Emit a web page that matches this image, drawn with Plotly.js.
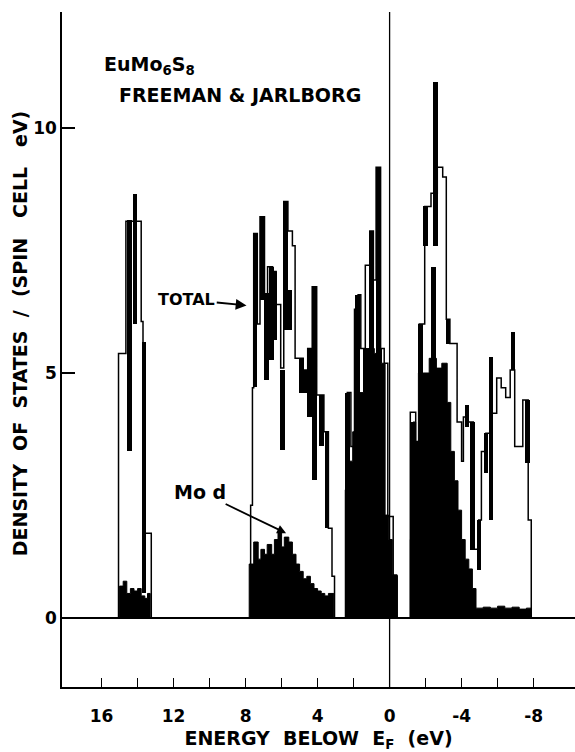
<!DOCTYPE html>
<html>
<head>
<meta charset="utf-8">
<script src="https://cdn.plot.ly/plotly-3.0.1.min.js"></script>
<style>
html,body{margin:0;padding:0;background:#fff;}
#chart{width:575px;height:752px;}
</style>
</head>
<body>
<div id="chart"></div>
<script>
// ---- Total DOS histogram outline (energy below E_F in eV, states / spin cell eV); null separates bands
var totalE = [
  15.06, 15.06, 14.65, 13.8, 13.7, 13.24, null,
  7.72, 7.72, 7.62, 7.55, 7.35, 7.2, 6.95, 6.78, 6.5, 6.3, 6.05, 5.88, 5.65, 5.4, 5.25, 4.8, 4.55, 4.3, 4.05, 3.65, 3.4, 3.2, 3.06, null,
  2.45, 2.45, 2.35, 2.15, 1.95, 1.75, 1.6, 1.35, 1.1, 0.9, 0.75, 0.5, 0.3, 0.1, -0.2, -0.42, null,
  -1.15, -1.15, -1.45, -1.65, -1.95, -2.3, -2.65, -2.95, -3.15, -3.35, -3.75, -4.0, -4.1, -4.35, -4.65, -4.95, -5.1, -5.35, -5.65, -5.95, -6.2, -6.45, -6.7, -6.95, -7.4, -7.7, -7.87
];
var totalH = [
  0, 5.4, 8.1, 6.05, 1.73, 0, null,
  0, 2.3, 4.7, 7.85, 6.0, 8.19, 6.6, 7.17, 7.07, 6.4, 5.1, 8.5, 7.9, 7.6, 5.3, 5.06, 5.5, 6.76, 4.55, 3.8, 1.83, 0.85, 0, null,
  0, 2.6, 4.6, 3.5, 6.3, 6.6, 5.5, 7.2, 7.9, 6.9, 9.2, 5.5, 5.2, 2.07, 0.85, 0, null,
  0, 4.2, 3.6, 6.0, 8.4, 8.67, 9.2, 9.0, 6.1, 5.6, 4.0, 3.2, 4.1, 4.0, 1.4, 2.0, 3.4, 3.77, 4.18, 4.9, 4.7, 4.5, 5.06, 3.5, 4.45, 2.0, 0
];

// ---- Mo d partial DOS (filled black)
var modE = [
  15.0, 15.0, 14.8, 14.6, 14.4, 14.2, 14.0, 13.8, 13.6, 13.45, 13.3, null,
  7.8, 7.8, 7.55, 7.3, 7.15, 6.95, 6.8, 6.55, 6.4, 6.2, 6.0, 5.85, 5.6, 5.4, 5.2, 5.0, 4.8, 4.6, 4.4, 4.2, 4.0, 3.8, 3.6, 3.4, 3.1, null,
  2.45, 2.45, 2.25, 2.05, 1.85, 1.65, 1.45, 1.25, 1.05, 0.85, 0.65, 0.45, 0.25, 0.05, -0.15, -0.42, null,
  -1.15, -1.15, -1.3, -1.45, -1.6, -1.9, -2.2, -2.6, -2.9, -3.2, -3.4, -3.6, -3.8, -4.0, -4.2, -4.4, -4.6, -4.8, -5.2, -5.6, -6.0, -6.4, -6.8, -7.2, -7.6, -7.87
];
var modH = [
  0, 0.65, 0.75, 0.5, 0.6, 0.55, 0.6, 0.45, 0.4, 0.5, 0, null,
  0, 1.1, 1.55, 1.2, 1.4, 1.3, 1.5, 1.3, 1.6, 1.75, 1.45, 1.65, 1.55, 1.3, 1.1, 0.95, 0.8, 0.85, 0.7, 0.6, 0.55, 0.5, 0.45, 0.5, 0, null,
  0, 2.6, 3.2, 3.8, 4.2, 4.6, 5.5, 5.5, 5.5, 5.4, 5.5, 5.2, 2.1, 1.6, 0.88, 0, null,
  0, 1.6, 4.0, 3.6, 5.0, 5.0, 5.3, 5.1, 5.2, 4.4, 3.4, 2.8, 2.2, 1.6, 1.2, 1.0, 0.6, 0.2, 0.22, 0.2, 0.24, 0.2, 0.22, 0.18, 0.2, 0
];

// ---- Heavy histogram edges (thick black segments): energy, lower and upper DOS
var spikeE  = [14.45, 14.15, 13.65, 7.48, 7.07, 6.85, 6.57, 6.39, 5.96, 5.78, 5.58, 4.9, 4.72, 4.44, 4.18, 3.8, 3.48, 2.33, 1.78, 1.02, 0.6, -1.3, -1.7, -2.0, -2.55, -2.45, -3.25, -4.3, -4.6, -4.97, -5.36, -5.64, -6.85, -7.65];
var spikeLo = [3.4, 6.0, 0.5, 4.72, 6.49, 4.86, 5.27, 5.67, 3.43, 5.88, 5.88, 4.59, 4.59, 4.11, 2.82, 3.5, 1.83, 1.0, 3.0, 5.5, 5.0, 1.6, 5.0, 7.6, 7.6, 5.06, 5.6, 3.9, 1.39, 0.98, 2.96, 2.0, 5.06, 3.16];
var spikeHi = [8.12, 8.66, 5.64, 7.85, 8.19, 6.63, 7.17, 7.07, 5.06, 8.5, 6.7, 5.3, 5.06, 5.5, 6.76, 4.55, 3.8, 4.6, 6.6, 7.9, 9.2, 4.0, 6.0, 8.4, 10.95, 7.17, 6.08, 4.35, 4.0, 2.0, 3.77, 5.33, 5.84, 4.45];

// ---- Axis ticks
var xTickVals = [16, 12, 8, 4, 0, -4, -8];
var xTickText = ['16', '12', '8', '4', '0', '-4', '-8'];
var xMinorVals = [14, 10, 6, 2, -2, -6];
var yTickVals = [0, 5, 10];
var yTickText = ['0', '5', '10'];

var FONT = 'DejaVu Sans, Noto Sans, sans-serif';
function sp(n) { return new Array(n + 1).join('\u00A0'); }

// split null-separated arrays into bands so each band fills to zero on its own
function bands(xs, ys) {
  var out = [], cx = [], cy = [];
  for (var i = 0; i < xs.length; i++) {
    if (xs[i] === null) { out.push([cx, cy]); cx = []; cy = []; }
    else { cx.push(xs[i]); cy.push(ys[i]); }
  }
  if (cx.length) out.push([cx, cy]);
  return out;
}

var XRANGE = [18.2, -10.3];
var traces = [];
bands(modE, modH).forEach(function (b) {
  traces.push({
    type: 'scatter', mode: 'lines', x: b[0], y: b[1],
    line: {shape: 'hv', color: '#000', width: 1}, fill: 'tozeroy', fillcolor: '#000',
    name: 'Mo d', showlegend: false
  });
});
traces.push({
  type: 'scatter', mode: 'lines', x: totalE, y: totalH, connectgaps: false,
  line: {shape: 'hv', color: '#000', width: 1.5}, name: 'TOTAL', showlegend: false
});
traces.push({
  type: 'bar', x: spikeE, base: spikeLo,
  y: spikeHi.map(function (h, i) { return h - spikeLo[i]; }),
  width: 0.26, marker: {color: '#000', line: {width: 0}}, name: 'TOTAL (edges)', showlegend: false
});
// invisible trace carrying the unlabelled 2-eV tick axis
traces.push({type: 'scatter', mode: 'markers', x: [0], y: [0], xaxis: 'x2', marker: {opacity: 0}, hoverinfo: 'skip', showlegend: false});

var layout = {
  width: 575, height: 752,
  margin: {l: 62, r: 0, t: 12, b: 65},
  paper_bgcolor: '#fff', plot_bgcolor: '#fff',
  font: {family: FONT, color: '#000', size: 16, weight: 700},
  showlegend: false,
  bargap: 0,
  xaxis: {
    range: XRANGE, tickmode: 'array', tickvals: xTickVals, ticktext: xTickText,
    ticks: 'inside', ticklen: 9, tickwidth: 1.6, tickcolor: '#000',
    ticklabelstandoff: 13,
    showline: true, linecolor: '#000', linewidth: 1.8, showgrid: false, zeroline: false,
    tickfont: {family: FONT, size: 17, weight: 700},
    title: {text: 'ENERGY' + sp(2) + 'BELOW' + sp(2) + 'E<sub>F</sub>' + sp(2) + '(eV)', font: {family: FONT, size: 19, weight: 700}, standoff: 18}
  },
  xaxis2: {
    overlaying: 'x', side: 'bottom', anchor: 'y', range: XRANGE, tickmode: 'array', tickvals: xMinorVals,
    ticks: 'inside', ticklen: 9, tickwidth: 1.6, tickcolor: '#000', showticklabels: false,
    showline: false, showgrid: false, zeroline: false
  },
  yaxis: {
    range: [-1.41, 12.37], tickmode: 'array', tickvals: yTickVals, ticktext: yTickText,
    ticks: 'inside', ticklen: 13, tickwidth: 1.6, tickcolor: '#000',
    showline: true, linecolor: '#000', linewidth: 1.8, showgrid: false,
    zeroline: true, zerolinecolor: '#000', zerolinewidth: 1.6,
    tickfont: {family: FONT, size: 17, weight: 700}
  },
  shapes: [
    {type: 'line', xref: 'x', yref: 'paper', x0: 0, x1: 0, y0: 0, y1: 1, line: {color: '#000', width: 1.3}}
  ],
  annotations: [
    {xref: 'paper', yref: 'paper', x: -0.082, y: 0.524, xanchor: 'center', yanchor: 'middle', showarrow: false, textangle: -90,
     text: 'DENSITY' + sp(2) + 'OF' + sp(2) + 'STATES' + sp(2) + '/' + sp(2) + '(SPIN' + sp(3) + 'CELL' + sp(3) + 'eV)',
     font: {family: FONT, size: 19, weight: 700}},
    {xref: 'paper', yref: 'paper', x: 0.077, y: 0.92, xanchor: 'left', yanchor: 'middle', showarrow: false,
     text: 'EuMo<sub>6</sub>S<sub>8</sub>', font: {family: FONT, size: 19, weight: 700}},
    {xref: 'paper', yref: 'paper', x: 0.108, y: 0.877, xanchor: 'left', yanchor: 'middle', showarrow: false,
     text: 'FREEMAN' + sp(1) + '&amp;' + sp(1) + 'JARLBORG', font: {family: FONT, size: 19, weight: 700}},
    {xref: 'x', yref: 'y', x: 7.95, y: 6.38, axref: 'x', ayref: 'y', ax: 11.27, ay: 6.5,
     text: 'TOTAL', font: {family: FONT, size: 16, weight: 700}, showarrow: true, arrowhead: 2, arrowsize: 1.2, arrowwidth: 1.8, arrowcolor: '#000'},
    {xref: 'x', yref: 'y', x: 5.75, y: 1.73, axref: 'x', ayref: 'y', ax: 10.55, ay: 2.58,
     text: 'Mo' + sp(1) + 'd', font: {family: FONT, size: 19, weight: 700}, showarrow: true, arrowhead: 2, arrowsize: 1, arrowwidth: 1.8, arrowcolor: '#000'}
  ]
};

Plotly.newPlot('chart', traces, layout, {displayModeBar: false, staticPlot: true});
</script>
</body>
</html>
